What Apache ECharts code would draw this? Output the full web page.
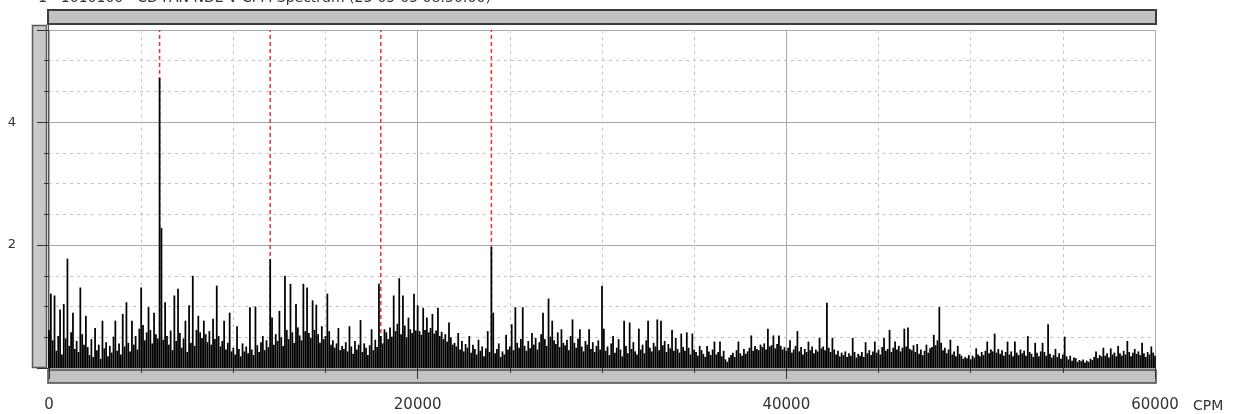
<!DOCTYPE html>
<html>
<head>
<meta charset="utf-8">
<script src="https://cdn.jsdelivr.net/npm/echarts@6/dist/echarts.min.js"></script>
<style>
html,body{margin:0;padding:0;background:#fff;}
#chart{width:1233px;height:414px;}
</style>
</head>
<body>
<div id="chart"></div>
<script>
// Spectrum bin spacing (CPM)
const cpmStep = 100;
// Amplitudes, one per 100 CPM bin, 0 .. 60000 CPM
const amplitude = [
  // 0 - 1900
  0.62,1.21,0.45,1.18,0.28,0.52,0.95,0.22,1.04,0.48,1.78,0.36,0.58,0.90,0.31,0.44,0.26,1.31,0.55,0.38,
  // 2000 - 3900
  0.85,0.34,0.21,0.47,0.18,0.65,0.29,0.38,0.15,0.77,0.32,0.42,0.19,0.36,0.25,0.51,0.77,0.28,0.40,0.22,
  // 4000 - 5900
  0.88,0.35,1.07,0.41,0.27,0.77,0.38,0.52,0.30,0.64,1.31,0.70,0.45,0.58,0.99,0.62,0.40,0.90,0.55,0.48,
  // 6000 - 7900
  4.72,2.28,0.46,1.07,0.52,0.38,0.61,0.29,1.18,0.44,1.29,0.57,0.33,0.48,0.77,0.26,1.02,0.41,1.50,0.36,
  // 8000 - 9900
  0.62,0.85,0.58,0.49,0.77,0.55,0.42,0.60,0.38,0.80,0.47,1.34,0.52,0.35,0.44,0.77,0.30,0.41,0.90,0.27,
  // 10000 - 11900
  0.33,0.22,0.68,0.31,0.19,0.40,0.27,0.35,0.24,0.99,0.30,0.21,1.00,0.37,0.26,0.42,0.52,0.29,0.45,0.34,
  // 12000 - 13900
  1.77,0.82,0.38,0.55,0.44,0.93,0.50,0.36,1.50,0.62,0.47,1.37,0.58,0.41,1.04,0.66,0.53,0.45,1.37,0.60,
  // 14000 - 15900
  1.31,0.57,0.49,1.10,0.62,1.03,0.55,0.41,0.68,0.47,0.52,1.21,0.60,0.38,0.45,0.33,0.40,0.65,0.29,0.36,
  // 16000 - 17900
  0.31,0.42,0.27,0.68,0.35,0.23,0.44,0.30,0.38,0.78,0.26,0.40,0.33,0.21,0.37,0.63,0.29,0.46,0.34,1.37,
  // 18000 - 19900
  0.52,0.40,0.63,0.58,0.47,0.66,0.51,1.18,0.60,0.72,1.46,0.55,1.18,0.69,0.50,0.82,0.63,0.57,1.21,0.61,
  // 20000 - 21900
  1.02,0.60,0.54,0.98,0.62,0.82,0.58,0.65,0.88,0.56,0.61,0.98,0.52,0.59,0.47,0.55,0.43,0.74,0.50,0.38,
  // 22000 - 23900
  0.41,0.35,0.57,0.30,0.44,0.27,0.39,0.33,0.52,0.25,0.38,0.31,0.22,0.46,0.28,0.35,0.19,0.32,0.60,0.26,
  // 24000 - 25900
  1.97,0.90,0.24,0.31,0.40,0.18,0.27,0.22,0.54,0.30,0.35,0.71,0.29,0.99,0.41,0.33,0.47,0.99,0.36,0.28,
  // 26000 - 27900
  0.44,0.32,0.57,0.38,0.49,0.30,0.42,0.55,0.90,0.47,0.36,1.13,0.51,0.77,0.45,0.39,0.58,0.34,0.63,0.41,
  // 28000 - 29900
  0.37,0.46,0.29,0.52,0.79,0.41,0.33,0.48,0.63,0.35,0.27,0.44,0.38,0.63,0.31,0.42,0.26,0.36,0.45,0.30,
  // 30000 - 31900
  1.34,0.64,0.28,0.35,0.21,0.40,0.52,0.25,0.33,0.47,0.30,0.19,0.77,0.36,0.24,0.74,0.31,0.42,0.27,0.22,
  // 32000 - 33900
  0.64,0.30,0.38,0.24,0.45,0.77,0.33,0.27,0.41,0.35,0.79,0.29,0.77,0.37,0.44,0.26,0.39,0.32,0.62,0.28,
  // 34000 - 35900
  0.49,0.31,0.25,0.56,0.34,0.28,0.58,0.33,0.22,0.56,0.30,0.26,0.20,0.36,0.29,0.23,0.18,0.36,0.27,0.21,
  // 36000 - 37900
  0.30,0.43,0.22,0.26,0.43,0.19,0.28,0.14,0.10,0.17,0.21,0.25,0.18,0.29,0.43,0.24,0.20,0.31,0.23,0.27,
  // 38000 - 39900
  0.33,0.53,0.28,0.36,0.31,0.29,0.38,0.34,0.40,0.30,0.64,0.35,0.37,0.53,0.32,0.39,0.53,0.36,0.30,0.34,
  // 40000 - 41900
  0.28,0.33,0.45,0.25,0.30,0.36,0.60,0.27,0.34,0.22,0.31,0.26,0.43,0.29,0.35,0.24,0.30,0.27,0.49,0.32,
  // 42000 - 43900
  0.35,0.29,1.06,0.33,0.26,0.49,0.30,0.22,0.28,0.19,0.25,0.21,0.27,0.18,0.24,0.20,0.49,0.26,0.17,0.23,
  // 44000 - 45900
  0.20,0.26,0.18,0.42,0.24,0.29,0.21,0.27,0.43,0.25,0.30,0.22,0.34,0.49,0.28,0.31,0.62,0.26,0.33,0.43,
  // 46000 - 47900
  0.30,0.36,0.27,0.33,0.64,0.35,0.66,0.31,0.29,0.37,0.26,0.39,0.23,0.30,0.21,0.28,0.38,0.25,0.32,0.34,
  // 48000 - 49900
  0.54,0.37,0.45,0.99,0.41,0.29,0.33,0.24,0.30,0.46,0.22,0.27,0.19,0.36,0.23,0.20,0.15,0.18,0.16,0.21,
  // 50000 - 51900
  0.14,0.20,0.17,0.32,0.22,0.19,0.26,0.21,0.28,0.43,0.24,0.30,0.27,0.56,0.25,0.31,0.23,0.29,0.20,0.26,
  // 52000 - 53900
  0.43,0.22,0.27,0.19,0.43,0.25,0.21,0.30,0.24,0.28,0.20,0.52,0.26,0.23,0.18,0.41,0.25,0.19,0.27,0.41,
  // 54000 - 55900
  0.26,0.20,0.71,0.23,0.17,0.21,0.31,0.18,0.24,0.15,0.22,0.51,0.19,0.14,0.20,0.12,0.17,0.16,0.10,0.13,
  // 56000 - 57900
  0.11,0.14,0.09,0.12,0.10,0.15,0.13,0.18,0.27,0.16,0.21,0.19,0.33,0.20,0.24,0.17,0.32,0.22,0.25,0.19,
  // 58000 - 59900
  0.36,0.24,0.20,0.28,0.22,0.44,0.26,0.19,0.25,0.31,0.23,0.27,0.21,0.41,0.24,0.18,0.26,0.22,0.35,0.25,
  // 60000
  0.20
];
// Running-speed harmonic markers (CPM)
const harmonicCpm = [6000, 12000, 18000, 24000];
// Axis tick values that carry labels
const xLabelValues = [0, 20000, 40000, 60000];
const yLabelValues = [2, 4];
const yMax = 5.5;
const titleText = '1 - 1010100 - CD FAN NDE V CPM Spectrum (23-05-05 08:50:00)';
const xUnit = 'CPM';

const seriesData = amplitude.map((v, i) => [i * cpmStep, v]);

const font = 'DejaVu Sans';
const chart = echarts.init(document.getElementById('chart'), null, {renderer: 'canvas'});

const dashedGrid = {show: true, lineStyle: {color: '#c4c4c4', type: [3, 4], width: 1}};
const solidGrid = {show: true, lineStyle: {color: '#a9a9a9', type: 'solid', width: 1}};

const harmonicSeries = harmonicCpm.map(c => ({
  type: 'line',
  xAxisIndex: 0, yAxisIndex: 0,
  data: [[c, 0], [c, yMax]],
  symbol: 'none',
  silent: true,
  z: 2,
  lineStyle: {color: '#f03030', type: [4, 3], width: 1.5}
}));

chart.setOption({
  animation: false,
  backgroundColor: '#ffffff',
  grid: {left: 49, right: 78, top: 30, bottom: 46, containLabel: false},
  xAxis: [
    {
      type: 'value', min: 0, max: 60000, interval: 5000, position: 'bottom', offset: 16,
      axisLine: {show: false},
      axisTick: {show: true, length: 5, lineStyle: {color: '#333'}},
      axisLabel: {show: false},
      splitLine: dashedGrid
    },
    {
      type: 'value', min: 0, max: 60000, interval: 20000, position: 'bottom', offset: 16,
      axisLine: {show: false},
      axisTick: {show: true, length: 11, lineStyle: {color: '#333'}},
      axisLabel: {
        show: true, margin: 14, fontFamily: font, fontSize: 15, color: '#333',
        formatter: v => xLabelValues.includes(v) ? String(v) : ''
      },
      splitLine: solidGrid
    }
  ],
  yAxis: [
    {
      type: 'value', min: 0, max: yMax, interval: 0.5, position: 'left', offset: 17,
      axisLine: {show: false},
      axisTick: {show: true, length: 5, lineStyle: {color: '#333'}},
      axisLabel: {show: false},
      splitLine: dashedGrid
    },
    {
      type: 'value', min: 0, max: yMax, interval: 2, position: 'left', offset: 17,
      axisLine: {show: false},
      axisTick: {show: true, length: 12, lineStyle: {color: '#333'}},
      axisLabel: {
        show: true, margin: 16, fontFamily: font, fontSize: 13, color: '#333',
        formatter: v => yLabelValues.includes(v) ? String(v) : ''
      },
      splitLine: solidGrid
    }
  ],
  series: [{
    type: 'bar',
    xAxisIndex: 0, yAxisIndex: 0,
    data: seriesData,
    barWidth: 1.75,
    itemStyle: {color: '#000000'},
    silent: true,
    z: 3
  }].concat(harmonicSeries),
  graphic: [
    {type: 'rect', shape: {x: 48, y: 10, width: 1108, height: 14},
     style: {fill: '#c3c3c3', stroke: '#3c3c3c', lineWidth: 2}},
    {type: 'rect', shape: {x: 32.5, y: 25.5, width: 14, height: 342},
     style: {fill: '#c8c8c8', stroke: '#5a5a5a', lineWidth: 1.5}},
    {type: 'rect', shape: {x: 48, y: 370, width: 1108, height: 13},
     style: {fill: '#c3c3c3', stroke: '#4a4a4a', lineWidth: 1.5}},
    {type: 'line', shape: {x1: 48.5, y1: 24, x2: 48.5, y2: 369},
     style: {stroke: '#555', lineWidth: 1}},
    {type: 'text', x: 38, y: -2,
     style: {text: titleText, fontFamily: font, fontSize: 14, fill: '#333', verticalAlign: 'middle'}},
    {type: 'text', x: 1193, y: 399,
     style: {text: xUnit, fontFamily: font, fontSize: 14, fill: '#333', verticalAlign: 'top'}}
  ]
});
</script>
</body>
</html>
